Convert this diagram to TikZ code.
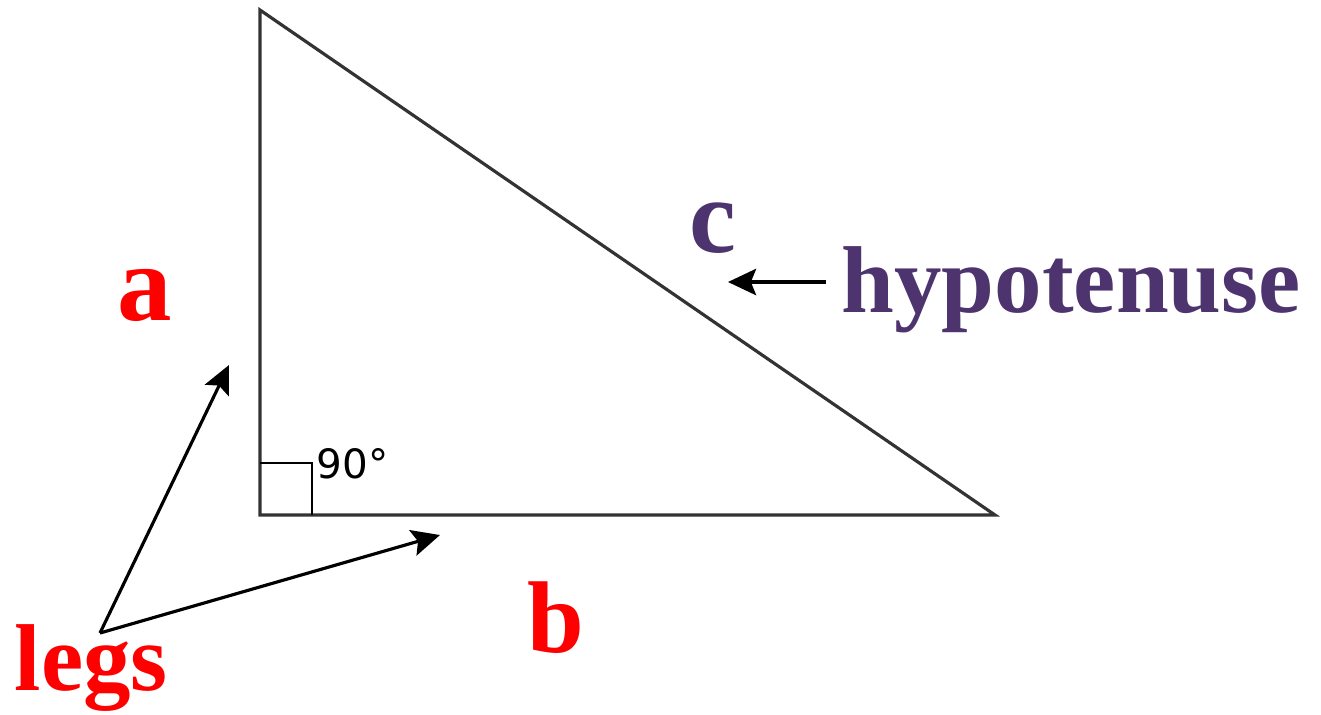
\documentclass[tikz,border=0pt]{standalone}
\usepackage{fontspec}
\setmainfont{Liberation Serif}
\newfontfamily\degfont{DejaVu Sans}
\usetikzlibrary{arrows.meta}
\definecolor{lblred}{RGB}{255,0,0}
\definecolor{lblpurple}{RGB}{78,52,110}
\tikzset{
  edge/.style={draw=black!80, line width=0.9pt, line join=miter},
  pointer/.style={draw=black, line width=0.9pt, -{Stealth[length=8pt,width=7.5pt,inset=1.5pt]}},
  leglabel/.style={text=lblred, font=\bfseries, inner sep=0pt, anchor=base},
  hyplabel/.style={text=lblpurple, font=\bfseries, inner sep=0pt},
}
\begin{document}
\begin{tikzpicture}[x=0.01cm, y=-0.01cm]
\useasboundingbox (0,0) rectangle (1321,714);
\coordinate (T) at (260,10);
\coordinate (R) at (260,515);
\coordinate (B) at (995,515);
\draw[edge] (T) -- (R) -- (B) -- cycle;
\coordinate (q1) at (260,463);
\coordinate (q2) at (312,463);
\coordinate (q3) at (312,515);
\draw[black, line width=0.7pt] (q1) -- (q2) -- (q3);
\node[inner sep=0pt, anchor=base west, font=\degfont\fontsize{11.5}{13}\selectfont] (deg) at (316,478) {90°};
\node[leglabel, font=\bfseries\fontsize{31}{36}\selectfont] (a) at (145,320) {a};
\node[leglabel, font=\bfseries\fontsize{29}{34}\selectfont] (b) at (556,652) {b};
\node[hyplabel, anchor=base, font=\bfseries\fontsize{30}{35}\selectfont] (c) at (713,252) {c};
\node[hyplabel, anchor=base west, font=\bfseries\fontsize{27}{32}\selectfont] (hyp) at (841,312) {hypotenuse};
\node[leglabel, anchor=base west, font=\bfseries\fontsize{27}{32}\selectfont] (legs) at (14,690) {legs};
\coordinate (legsorig) at (100,633);
\coordinate (atip) at (229,365);
\coordinate (btip) at (440,535);
\coordinate (htail) at (826,282);
\coordinate (htip) at (728,282);
\draw[pointer] (legsorig) -- (atip);
\draw[pointer] (legsorig) -- (btip);
\draw[pointer] (htail) -- (htip);
\end{tikzpicture}
\end{document}
